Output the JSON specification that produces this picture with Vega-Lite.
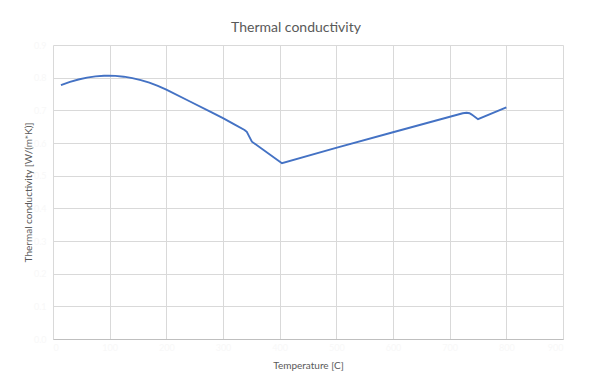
{
  "$schema": "https://vega.github.io/schema/vega-lite/v6.json",
  "width": 510,
  "height": 294,
  "autosize": {"type": "none"},
  "padding": {"left": 53, "top": 45, "right": 27, "bottom": 37},
  "background": "white",
  "title": {
    "text": "Thermal conductivity",
    "font": "Lato",
    "fontSize": 14,
    "fontWeight": "normal",
    "color": "#595959",
    "anchor": "middle",
    "dx": -12,
    "offset": 6
  },
  "data": {
    "values": [
      {"temperature": 14, "conductivity": 0.777},
      {"temperature": 30, "conductivity": 0.787},
      {"temperature": 45, "conductivity": 0.7945},
      {"temperature": 60, "conductivity": 0.8001},
      {"temperature": 75, "conductivity": 0.8038},
      {"temperature": 90, "conductivity": 0.8057},
      {"temperature": 98, "conductivity": 0.806},
      {"temperature": 110, "conductivity": 0.8054},
      {"temperature": 125, "conductivity": 0.803},
      {"temperature": 140, "conductivity": 0.7988},
      {"temperature": 155, "conductivity": 0.7927},
      {"temperature": 170, "conductivity": 0.7847},
      {"temperature": 185, "conductivity": 0.775},
      {"temperature": 200, "conductivity": 0.7633},
      {"temperature": 240, "conductivity": 0.7285},
      {"temperature": 280, "conductivity": 0.694},
      {"temperature": 300, "conductivity": 0.676},
      {"temperature": 320, "conductivity": 0.657},
      {"temperature": 338, "conductivity": 0.64},
      {"temperature": 342, "conductivity": 0.634},
      {"temperature": 345, "conductivity": 0.624},
      {"temperature": 351, "conductivity": 0.604},
      {"temperature": 404, "conductivity": 0.538},
      {"temperature": 501, "conductivity": 0.586},
      {"temperature": 600, "conductivity": 0.633},
      {"temperature": 723, "conductivity": 0.691},
      {"temperature": 730, "conductivity": 0.6925},
      {"temperature": 735, "conductivity": 0.691},
      {"temperature": 739, "conductivity": 0.687},
      {"temperature": 750, "conductivity": 0.673},
      {"temperature": 800, "conductivity": 0.709}
    ]
  },
  "mark": {"type": "line", "color": "#4472C4", "strokeWidth": 1.9, "clip": true},
  "encoding": {
    "x": {
      "field": "temperature",
      "type": "quantitative",
      "scale": {"domain": [0, 900], "nice": false, "zero": false},
      "axis": {
        "title": "Temperature [C]",
        "values": [0, 100, 200, 300, 400, 500, 600, 700, 800, 900],
        "grid": true,
        "ticks": false,
        "domain": true,
        "domainColor": "#bfbfbf",
        "labelColor": "#f8f8f8",
        "labelFontSize": 9,
        "labelPadding": 4,
        "titleY": 26,
        "titleBaseline": "middle"
      }
    },
    "y": {
      "field": "conductivity",
      "type": "quantitative",
      "scale": {"domain": [0, 0.9], "nice": false, "zero": false},
      "axis": {
        "title": "Thermal conductivity [W/(m*K)]",
        "values": [0, 0.1, 0.2, 0.3, 0.4, 0.5, 0.6, 0.7, 0.8, 0.9],
        "format": ".1f",
        "grid": true,
        "ticks": false,
        "domain": false,
        "labelColor": "#f8f8f8",
        "labelFontSize": 9,
        "labelPadding": 7,
        "titleX": -20,
        "titleBaseline": "bottom"
      }
    }
  },
  "config": {
    "view": {"stroke": null},
    "axis": {
      "gridColor": "#d9d9d9",
      "gridWidth": 1,
      "labelFont": "Lato",
      "titleFont": "Lato",
      "titleFontSize": 10,
      "titleFontWeight": "normal",
      "titleColor": "#595959"
    }
  }
}
